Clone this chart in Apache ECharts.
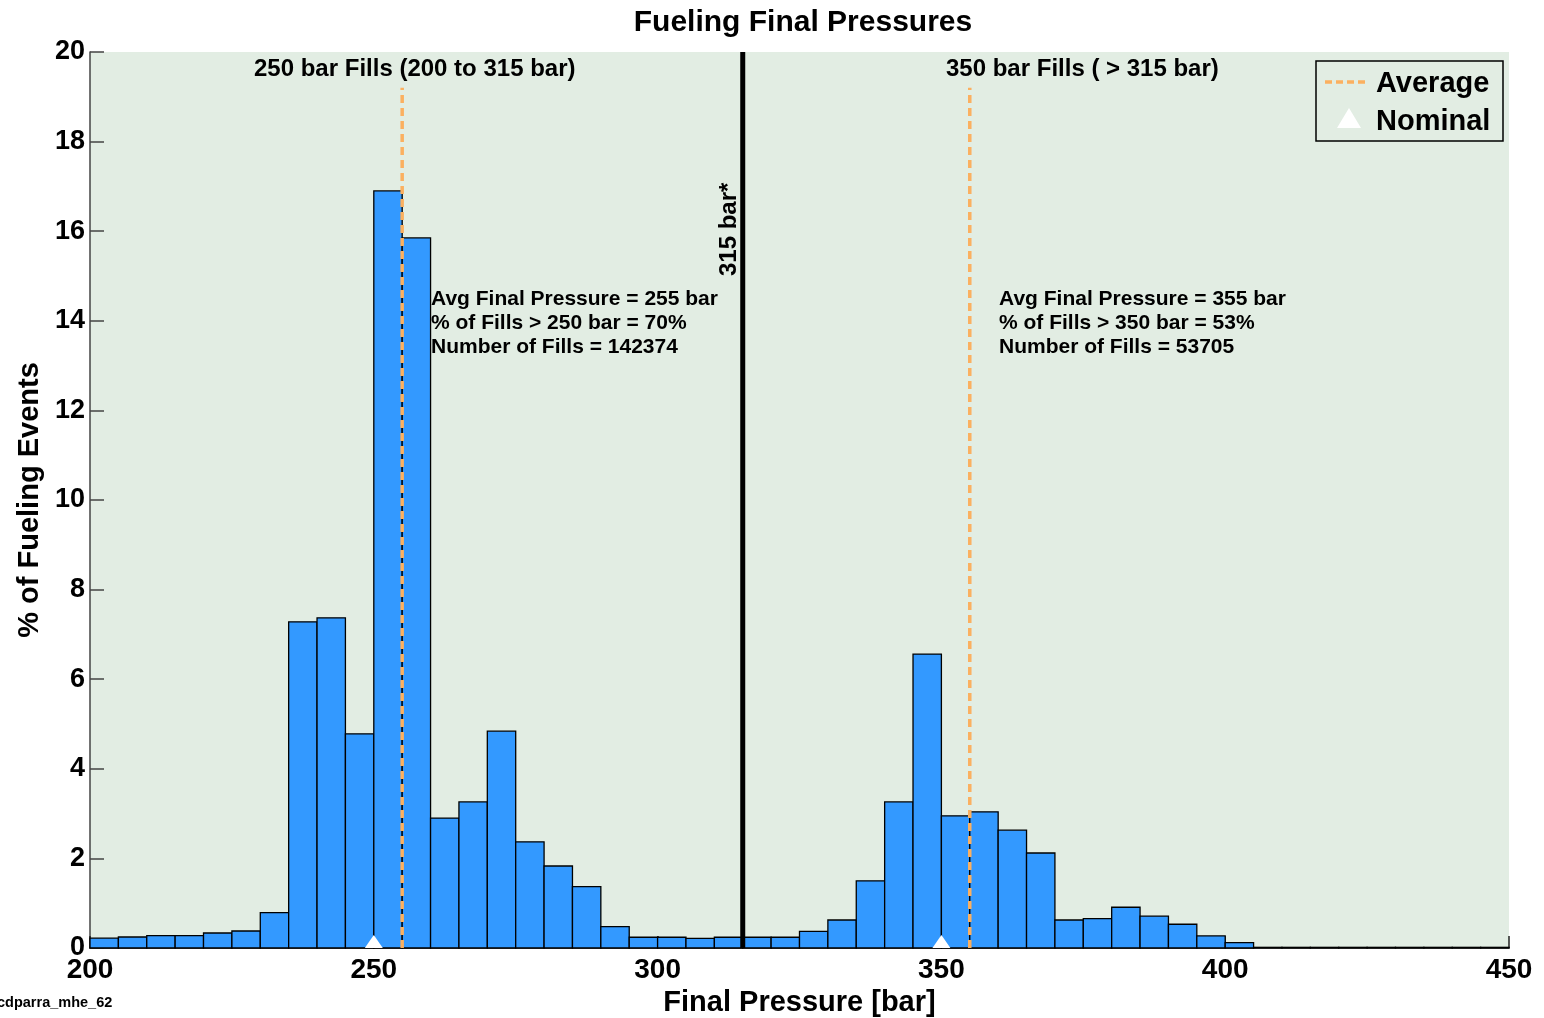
<!DOCTYPE html>
<html>
<head>
<meta charset="utf-8">
<script src="https://cdn.jsdelivr.net/npm/echarts@6/dist/echarts.min.js"></script>
<style>html,body{margin:0;padding:0;background:#fff}#c{width:1544px;height:1018px}</style>
</head>
<body>
<div id="c"></div>
<script>
// Histogram bins (left edges, bar) and % of fueling events
const binStarts = [200,205,210,215,220,225,230,235,240,245,250,255,260,265,270,275,280,285,290,295,
                   300,305,310,315,320,325,330,335,340,345,350,355,360,365,370,375,380,385,390,395,
                   400,405,410,415,420,425,430,435,440,445];
const binWidth = 5;
const percentValues = [0.22,0.245,0.275,0.275,0.335,0.38,0.79,7.28,7.37,4.78,16.9,15.85,2.9,3.26,4.84,2.37,1.83,1.37,0.475,0.24,
                       0.24,0.215,0.24,0.24,0.24,0.37,0.625,1.5,3.26,6.56,2.95,3.04,2.63,2.12,0.625,0.655,0.91,0.71,0.53,0.27,
                       0.12,0.015,0.015,0.015,0.015,0.015,0.015,0.015,0.015,0.015];
const averagePressures = [255, 355];
const averageLineTop = 19.2;
const nominalPressures = [250, 350];
const dividerPressure = 315;
const xTicks = [200, 250, 300, 350, 400, 450];
const yTicks = [0, 2, 4, 6, 8, 10, 12, 14, 16, 18, 20];
const leftStats = ['Avg Final Pressure = 255 bar', '% of Fills > 250 bar = 70%', 'Number of Fills = 142374'];
const rightStats = ['Avg Final Pressure = 355 bar', '% of Fills > 350 bar = 53%', 'Number of Fills = 53705'];

const FONT = '"Liberation Sans", Arial, sans-serif';
const chart = echarts.init(document.getElementById('c'));

const barData = binStarts.map((b, i) => [b, percentValues[i]]);

const averageSeries = averagePressures.map(p => ({
  name: 'Average', type: 'line', z: 5, symbol: 'none', silent: true,
  data: [[p, 0], [p, averageLineTop]],
  lineStyle: { color: '#FBB060', width: 3.5, type: [8, 5] }
}));

function statText(lines, x) {
  return lines.map((t, i) => ({
    type: 'text', left: x, top: 289 + i * 24, z: 10,
    style: { text: t, font: 'bold 21px ' + FONT, fill: '#000' }
  }));
}

const option = {
  animation: false,
  backgroundColor: '#fff',
  title: {
    text: 'Fueling Final Pressures', left: 798, top: 3, textAlign: 'center',
    textStyle: { fontFamily: FONT, fontWeight: 'bold', fontSize: 30, color: '#000' }
  },
  grid: { left: 90, right: 35, top: 52, bottom: 70, show: true, backgroundColor: '#E2EDE3', borderWidth: 0, outerBoundsMode: 'none' },
  xAxis: {
    type: 'value', min: xTicks[0], max: xTicks[xTicks.length - 1], interval: 50,
    name: 'Final Pressure [bar]', nameLocation: 'middle', nameGap: 38,
    nameTextStyle: { fontFamily: FONT, fontWeight: 'bold', fontSize: 29, color: '#000' },
    axisLine: { show: true, lineStyle: { color: '#222', width: 1.5 } },
    axisTick: { show: true, inside: true, length: 12, lineStyle: { color: '#222', width: 1.5 } },
    axisLabel: { margin: 8, fontFamily: FONT, fontWeight: 'bold', fontSize: 28, color: '#000' },
    splitLine: { show: false }
  },
  yAxis: {
    type: 'value', min: yTicks[0], max: yTicks[yTicks.length - 1], interval: 2,
    name: '% of Fueling Events', nameLocation: 'middle', nameGap: 46,
    nameTextStyle: { fontFamily: FONT, fontWeight: 'bold', fontSize: 29, color: '#000' },
    axisLine: { show: true, lineStyle: { color: '#444', width: 1.5 } },
    axisTick: { show: true, inside: true, length: 14, lineStyle: { color: '#444', width: 1.5 } },
    axisLabel: { margin: 5, fontFamily: FONT, fontWeight: 'bold', fontSize: 27, color: '#000' },
    splitLine: { show: false }
  },
  series: [
    {
      name: 'Fills', type: 'custom', z: 2,
      data: barData,
      renderItem: function (params, api) {
        const x0 = api.value(0), v = api.value(1);
        const p0 = api.coord([x0, v]);
        const p1 = api.coord([x0 + binWidth, 0]);
        return {
          type: 'rect',
          shape: { x: p0[0], y: p0[1], width: p1[0] - p0[0], height: p1[1] - p0[1] },
          style: { fill: '#3399FF', stroke: '#000', lineWidth: 1.3 }
        };
      }
    },
    ...averageSeries,
    {
      name: '315', type: 'line', z: 6, symbol: 'none', silent: true,
      data: [[dividerPressure, 0], [dividerPressure, 20]],
      lineStyle: { color: '#000', width: 5 }
    },
    {
      name: 'Nominal', type: 'scatter', z: 7, symbol: 'triangle', symbolSize: [18, 13], symbolOffset: [0, -6.5],
      data: nominalPressures.map(p => [p, 0]),
      itemStyle: { color: '#fff', opacity: 1 }
    }
  ],
  graphic: [
    { type: 'text', left: 254, top: 57, z: 10, style: { text: '250 bar Fills (200 to 315 bar)', font: 'bold 24px ' + FONT, fill: '#000' } },
    { type: 'text', left: 946, top: 57, z: 10, style: { text: '350 bar Fills ( > 315 bar)', font: 'bold 24px ' + FONT, fill: '#000' } },
    ...statText(leftStats, 431),
    ...statText(rightStats, 999),
    { type: 'text', x: 717, y: 276, rotation: Math.PI / 2, z: 10, style: { text: '315 bar*', font: 'bold 24px ' + FONT, fill: '#000' } },
    { type: 'text', left: -3, top: 995, z: 10, style: { text: 'cdparra_mhe_62', font: 'bold 14.5px ' + FONT, fill: '#000' } },
    // legend box
    { type: 'rect', z: 10, shape: { x: 1316, y: 61, width: 187, height: 80 }, style: { fill: 'none', stroke: '#000', lineWidth: 1.5 } },
    { type: 'line', z: 10, shape: { x1: 1325, y1: 82, x2: 1369, y2: 82 }, style: { stroke: '#FBB060', lineWidth: 3.5, lineDash: [7, 4] } },
    { type: 'text', z: 10, left: 1376, top: 69, style: { text: 'Average', font: 'bold 29px ' + FONT, fill: '#000' } },
    { type: 'polygon', z: 10, shape: { points: [[1349, 108], [1361, 128], [1337, 128]] }, style: { fill: '#fff' } },
    { type: 'text', z: 10, left: 1376, top: 107, style: { text: 'Nominal', font: 'bold 29px ' + FONT, fill: '#000' } }
  ]
};
chart.setOption(option);
</script>
</body>
</html>
